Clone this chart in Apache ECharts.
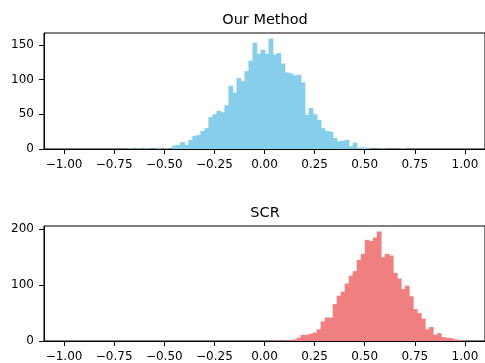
<!DOCTYPE html>
<html>
<head>
<meta charset="utf-8">
<script src="https://cdn.jsdelivr.net/npm/echarts@6/dist/echarts.min.js"></script>
<style>
html, body { margin: 0; padding: 0; background: #fff; }
#chart { width: 485px; height: 363px; }
</style>
</head>
<body>
<div id="chart"></div>
<script>
// histogram bins: 100 bins of width 0.02 from -1 to 1
const binStart = -1;
const binWidth = 0.02;

const ourMethodCounts = [
    0, 0, 0, 0, 0, 0, 0, 0, 0, 0,
    0, 0, 0, 0, 0, 0, 1, 0, 1, 0,
    1, 0, 0, 2, 0, 1, 0, 5, 6, 10,
    6, 13, 19, 20, 26, 30, 46, 50, 55, 53,
    63, 91, 81, 102, 98, 112, 127, 153, 137, 143,
    137, 159, 136, 138, 123, 110, 109, 106, 107, 96,
    49, 59, 50, 42, 30, 26, 25, 16, 11, 12,
    13, 4, 9, 2, 2, 2, 0, 0, 0, 1,
    0, 0, 0, 0, 1, 0, 0, 0, 0, 0,
    0, 0, 0, 0, 0, 0, 0, 0, 0, 0
];

const scrCounts = [
    0, 0, 0, 0, 0, 0, 0, 0, 0, 0,
    0, 0, 0, 0, 0, 0, 0, 0, 0, 0,
    0, 0, 0, 0, 0, 0, 0, 0, 0, 0,
    0, 0, 0, 0, 0, 0, 0, 0, 0, 0,
    0, 0, 0, 0, 0, 0, 0, 0, 0, 0,
    0, 0, 1, 0, 0, 1, 1, 3, 6, 11,
    11, 13, 15, 21, 35, 42, 42, 66, 81, 88,
    103, 117, 125, 145, 156, 181, 179, 185, 196, 150,
    156, 153, 122, 112, 93, 99, 80, 57, 50, 40,
    21, 25, 11, 14, 7, 6, 5, 3, 2, 1
];

const xTicks = [-1, -0.75, -0.5, -0.25, 0, 0.25, 0.5, 0.75, 1];
const ourTicks = [0, 50, 100, 150];
const scrTicks = [0, 100, 200];

function toBins(counts) {
    const out = [];
    counts.forEach((c, i) => {
        if (c > 0) out.push([binStart + i * binWidth, binStart + (i + 1) * binWidth, c]);
    });
    return out;
}

function renderBar(params, api) {
    const p0 = api.coord([api.value(0), api.value(2)]);
    const p1 = api.coord([api.value(1), 0]);
    // widen a little so neighbouring bars touch without hairline gaps
    return {
        type: 'rect',
        shape: { x: p0[0], y: p0[1], width: p1[0] - p0[0] + 0.8, height: p1[1] - p0[1] },
        style: { fill: api.visual('color') }
    };
}

const font = 'DejaVu Sans';
const fmtX = v => v.toFixed(2).replace('-', '\u2212');

function xAxis(gridIndex) {
    return {
        type: 'value', gridIndex: gridIndex, min: -1.1, max: 1.1,
        splitLine: { show: false },
        axisLine: { show: true, onZero: false, lineStyle: { color: '#000', width: 1 } },
        axisTick: { show: true, length: 5, customValues: xTicks, lineStyle: { color: '#000' } },
        axisLabel: { customValues: xTicks, formatter: fmtX, color: '#000', fontSize: 12, fontFamily: font, margin: 10 }
    };
}

function yAxis(gridIndex, max, ticks) {
    return {
        type: 'value', gridIndex: gridIndex, min: 0, max: max,
        splitLine: { show: false },
        axisLine: { show: true, onZero: false, lineStyle: { color: '#000', width: 1 } },
        axisTick: { show: true, length: 5, customValues: ticks, lineStyle: { color: '#000' } },
        axisLabel: { customValues: ticks, color: '#000', fontSize: 12, fontFamily: font, margin: 10 }
    };
}

const myChart = echarts.init(document.getElementById('chart'));
const option = {
    animation: false,
    grid: [
        { left: 44, top: 33, width: 442, height: 116, show: true, borderColor: '#000', borderWidth: 1 },
        { left: 44, top: 226, width: 442, height: 117, show: true, borderColor: '#000', borderWidth: 1 }
    ],
    graphic: [
        { type: 'text', x: 265, y: 20, style: { text: 'Our Method', fontSize: 14.5, fontFamily: font, fill: '#000', textAlign: 'center', textVerticalAlign: 'middle' } },
        { type: 'text', x: 265, y: 213, style: { text: 'SCR', fontSize: 14.5, fontFamily: font, fill: '#000', textAlign: 'center', textVerticalAlign: 'middle' } }
    ],
    xAxis: [xAxis(0), xAxis(1)],
    yAxis: [
        yAxis(0, Math.max(...ourMethodCounts) * 1.05, ourTicks),
        yAxis(1, Math.max(...scrCounts) * 1.05, scrTicks)
    ],
    series: [
        {
            name: 'Our Method', type: 'custom', xAxisIndex: 0, yAxisIndex: 0,
            renderItem: renderBar, encode: { x: [0, 1], y: 2 },
            itemStyle: { color: '#87CEEB' },
            data: toBins(ourMethodCounts)
        },
        {
            name: 'SCR', type: 'custom', xAxisIndex: 1, yAxisIndex: 1,
            renderItem: renderBar, encode: { x: [0, 1], y: 2 },
            itemStyle: { color: '#F08080' },
            data: toBins(scrCounts)
        }
    ]
};
myChart.setOption(option);
</script>
</body>
</html>
